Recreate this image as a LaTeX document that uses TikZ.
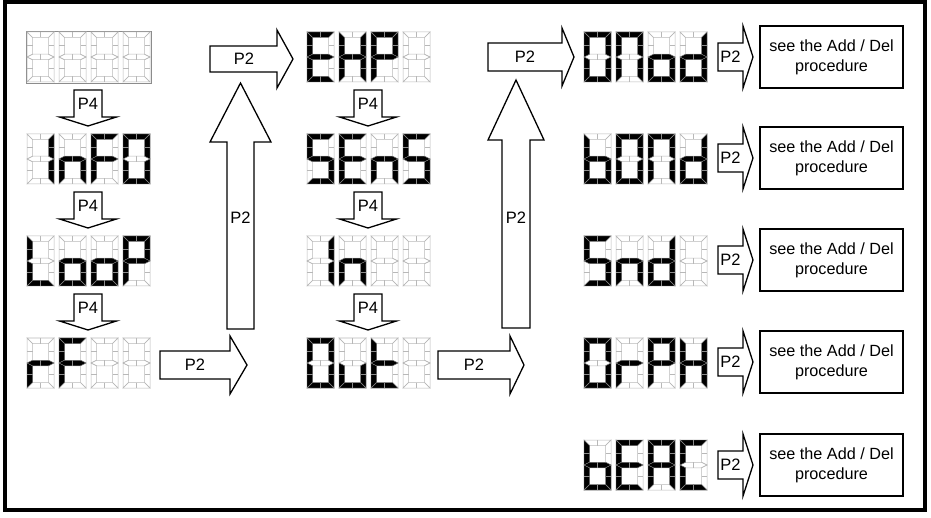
\documentclass[tikz,border=0pt]{standalone}
\usepackage{fontspec}
\setmainfont{Liberation Sans}

\tikzset{
  segoff/.style={draw=black!28, line width=0.5pt},
  segon/.style={fill=black, draw=black!45, line width=0.4pt},
  seg a/.pic={\path[pic actions] (0,0) -- (27,0) -- (21.5,5.5) -- (5.5,5.5) -- cycle;
    \path[pic actions] (13.5,0) -- (13.5,5.5);},
  seg b/.pic={\path[pic actions] (27,0) -- (27,25) -- (21.5,22.25) -- (21.5,5.5) -- cycle;
    \path[pic actions] (21.5,13.5) -- (27,13.5);},
  seg c/.pic={\path[pic actions] (27,25) -- (27,50) -- (21.5,44.5) -- (21.5,27.75) -- cycle;
    \path[pic actions] (21.5,36.5) -- (27,36.5);},
  seg d/.pic={\path[pic actions] (0,50) -- (27,50) -- (21.5,44.5) -- (5.5,44.5) -- cycle;
    \path[pic actions] (13.5,44.5) -- (13.5,50);},
  seg e/.pic={\path[pic actions] (0,25) -- (5.5,27.75) -- (5.5,44.5) -- (0,50) -- cycle;
    \path[pic actions] (0,36.5) -- (5.5,36.5);},
  seg f/.pic={\path[pic actions] (0,0) -- (5.5,5.5) -- (5.5,22.25) -- (0,25) -- cycle;
    \path[pic actions] (0,13.5) -- (5.5,13.5);},
  seg g/.pic={\path[pic actions] (0,25) -- (5.5,22.25) -- (21.5,22.25) -- (27,25) -- (21.5,27.75) -- (5.5,27.75) -- cycle;
    \path[pic actions] (13.5,22.25) -- (13.5,27.75);},
  seg z/.pic={},
  blockarr/.style={draw=black, line width=1.3pt, fill=white, line join=miter},
  plabel/.style={font=\fontsize{16.5}{19}\selectfont, inner sep=0pt},
  procbox/.style={draw, line width=2pt, minimum width=143pt, minimum height=62pt,
    align=center, font=\fontsize{16.2}{20}\selectfont}
}

% one digit: x, y of its top left corner, lit segments
\newcommand{\lcdchar}[3]{%
  \foreach \s in {a,b,c,d,e,f,g} {\pic[segoff] at ({#1},{#2}) {seg \s};}
  \foreach \s in {#3} {\pic[segon] at ({#1},{#2}) {seg \s};}}
% four digits in a row
\newcommand{\lcd}[6]{%
  \lcdchar{#1+1}{#2}{#3}\lcdchar{#1+33}{#2}{#4}%
  \lcdchar{#1+65}{#2}{#5}\lcdchar{#1+97}{#2}{#6}}

\begin{document}
\begin{tikzpicture}[x=1pt, y=-1pt]
\useasboundingbox (0,0) rectangle (931,518);
\draw[line width=4pt] (5,2) rectangle (925,509.5);

% left column
\draw[black!45, line width=0.6pt] (26,31) rectangle (151,83);
\lcd{26}{32}{z}{z}{z}{z}
\lcd{26}{134}{b,c}{c,e,g}{a,e,f,g}{a,b,c,d,e,f}
\lcd{26}{236}{d,e,f}{c,d,e,g}{c,d,e,g}{a,b,e,f,g}
\lcd{26}{338}{e,g}{a,e,f,g}{z}{z}

% middle column
\lcd{306}{32}{a,d,e,f,g}{b,c,e,f,g}{a,b,e,f,g}{z}
\lcd{306}{134}{a,c,d,f,g}{a,d,e,f,g}{c,e,g}{a,c,d,f,g}
\lcd{306}{236}{b,c}{c,e,g}{z}{z}
\lcd{306}{338}{a,b,c,d,e,f}{c,d,e}{d,e,f,g}{z}

% right column
\lcd{583}{32}{a,b,c,d,e,f}{a,b,c,e,f}{c,d,e,g}{b,c,d,e,g}
\lcd{583}{134}{c,d,e,f,g}{a,b,c,d,e,f}{a,b,c,e,f}{b,c,d,e,g}
\lcd{583}{236}{a,c,d,f,g}{c,e,g}{b,c,d,e,g}{z}
\lcd{583}{338}{a,b,c,d,e,f}{e,g}{a,b,e,f,g}{b,c,e,f,g}
\lcd{583}{440}{c,d,e,f,g}{a,d,e,f,g}{a,b,c,e,f,g}{a,d,e,f}

% P4 steps down
\foreach \cx/\t [count=\i] in {88/90, 88/192, 88/294, 368/90, 368/192, 368/294}
{
	\draw[blockarr] ({\cx-14},\t) -- ({\cx+14},\t) -- ({\cx+14},{\t+27}) -- ({\cx+28.5},{\t+27})
		-- (\cx,{\t+36}) -- ({\cx-28.5},{\t+27}) -- ({\cx-14},{\t+27}) -- cycle;
	\node[plabel] (pfour\i) at (\cx,{\t+14}) {P4};
}

% P2 from rF up to EHP
\draw[blockarr] (160,351) -- (230,351) -- (230,336) -- (247,365) -- (230,394) -- (230,379) -- (160,379) -- cycle;
\node[plabel] (ptwoa) at (195,365) {P2};
\draw[blockarr] (227,329) -- (227,142) -- (210,142) -- (240.5,83) -- (271,142) -- (254,142) -- (254,329) -- cycle;
\node[plabel] (ptwob) at (240.5,218) {P2};
\draw[blockarr] (210,46) -- (277,46) -- (277,30) -- (293,59) -- (277,88) -- (277,72) -- (210,72) -- cycle;
\node[plabel] (ptwoc) at (244,59) {P2};

% P2 from Out up to ONod
\draw[blockarr] (438,351) -- (510,351) -- (510,336) -- (524,365) -- (510,394) -- (510,379) -- (438,379) -- cycle;
\node[plabel] (ptwod) at (474,365) {P2};
\draw[blockarr] (502,328) -- (502,140) -- (488,140) -- (516,80) -- (544,140) -- (530,140) -- (530,328) -- cycle;
\node[plabel] (ptwoe) at (516,218) {P2};
\draw[blockarr] (488,43) -- (562,43) -- (562,28) -- (574,57) -- (562,86) -- (562,71) -- (488,71) -- cycle;
\node[plabel] (ptwof) at (525,57) {P2};

% P2 to the Add / Del procedure
\foreach \yc [count=\i] in {57, 158, 260, 362, 465}
{
	\draw[blockarr] (718,{\yc-14}) -- (743,{\yc-14}) -- (743,{\yc-31}) -- (753,\yc)
		-- (743,{\yc+31}) -- (743,{\yc+14}) -- (718,{\yc+14}) -- cycle;
	\node[plabel] (pbox\i) at (730.5,\yc) {P2};
	\node[procbox] (proc\i) at (831.5,\yc) {see the Add / Del\\procedure};
}
\end{tikzpicture}
\end{document}
